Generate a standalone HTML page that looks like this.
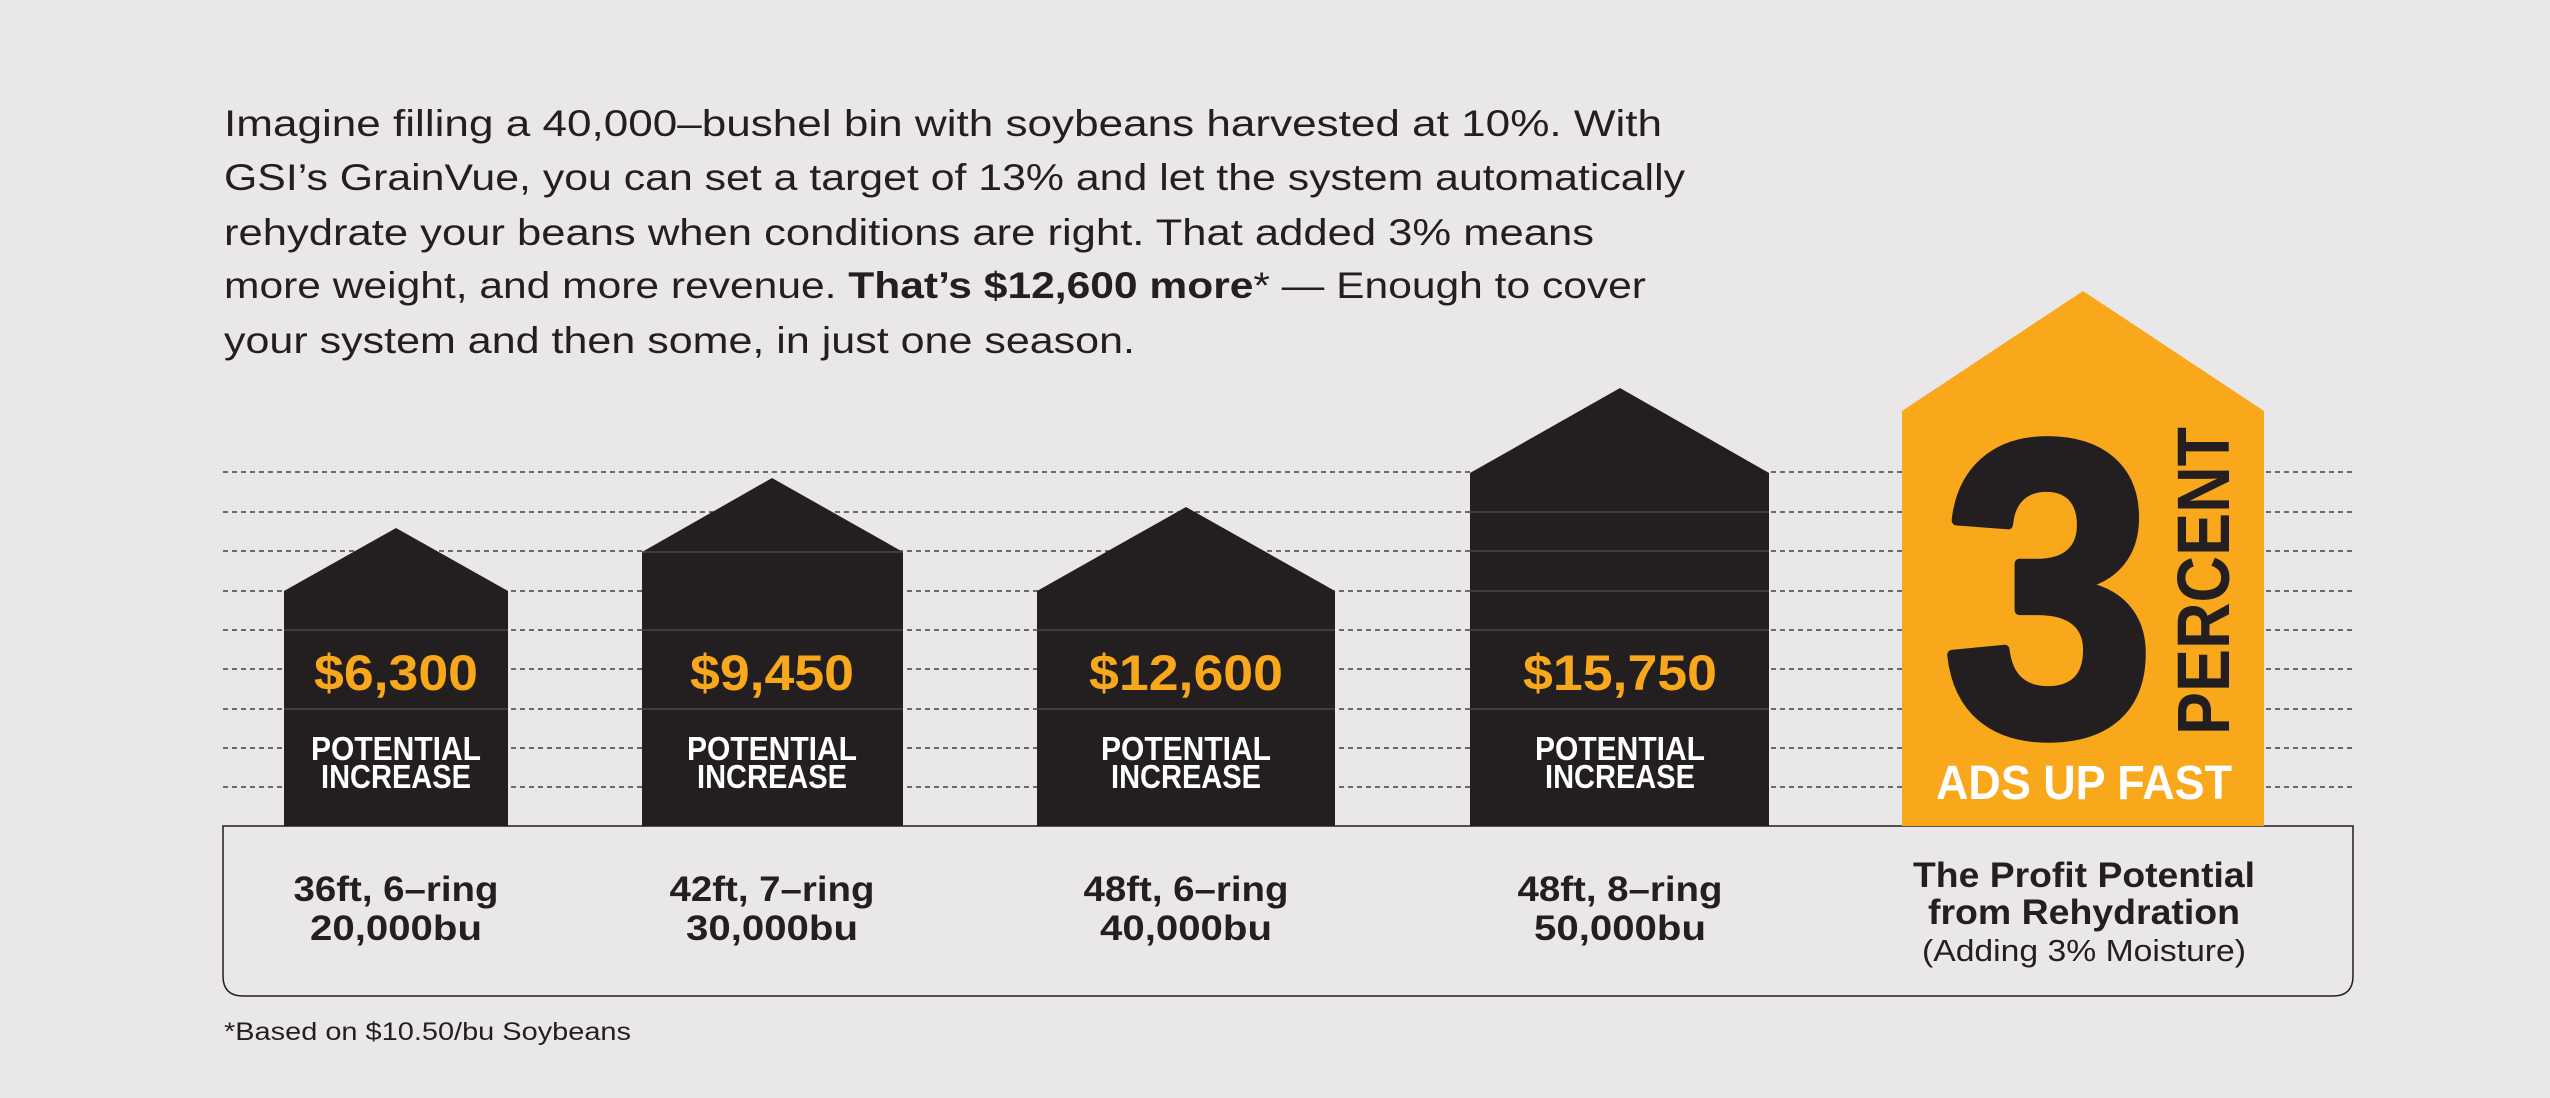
<!DOCTYPE html>
<html><head><style>
html,body{margin:0;padding:0;background:#e9e7e8;}
svg{display:block;}
text{font-family:"Liberation Sans",sans-serif;}
</style></head><body>
<svg width="2550" height="1098" viewBox="0 0 2550 1098" xmlns="http://www.w3.org/2000/svg">
<rect width="2550" height="1098" fill="#e9e7e8"/>
<g fill="#231f20" font-size="37">
<text x="224" y="136" textLength="1438" lengthAdjust="spacingAndGlyphs">Imagine filling a 40,000–bushel bin with soybeans harvested at 10%. With</text>
<text x="224" y="190" textLength="1461" lengthAdjust="spacingAndGlyphs">GSI’s GrainVue, you can set a target of 13% and let the system automatically</text>
<text x="224" y="245" textLength="1370" lengthAdjust="spacingAndGlyphs">rehydrate your beans when conditions are right. That added 3% means</text>
<text x="224" y="298" textLength="1422" lengthAdjust="spacingAndGlyphs">more weight, and more revenue. <tspan font-weight="bold">That’s $12,600 more</tspan>* — Enough to cover</text>
<text x="224" y="353" textLength="911" lengthAdjust="spacingAndGlyphs">your system and then some, in just one season.</text>
</g>
<g stroke="#231f20" stroke-width="1.3" stroke-dasharray="5,4">
<line x1="223" x2="2353" y1="472" y2="472"/>
<line x1="223" x2="2353" y1="512" y2="512"/>
<line x1="223" x2="2353" y1="551" y2="551"/>
<line x1="223" x2="2353" y1="591" y2="591"/>
<line x1="223" x2="2353" y1="630" y2="630"/>
<line x1="223" x2="2353" y1="669" y2="669"/>
<line x1="223" x2="2353" y1="709" y2="709"/>
<line x1="223" x2="2353" y1="748" y2="748"/>
<line x1="223" x2="2353" y1="787" y2="787"/>
</g>
<path d="M223 826 H2353 V976 Q2353 996 2333 996 H243 Q223 996 223 976 Z" fill="#e9e7e8" stroke="#231f20" stroke-width="1.5"/>
<g fill="#231f20">
<polygon points="284,826 284,591 396,528 508,591 508,826"/>
<polygon points="642,826 642,552 772,478 903,552 903,826"/>
<polygon points="1037,826 1037,591 1186,507 1335,591 1335,826"/>
<polygon points="1470,826 1470,473 1620,388 1769,473 1769,826"/>
</g>
<g stroke="#4a4748" stroke-width="1.5">
<line x1="284" x2="508" y1="630" y2="630"/><line x1="284" x2="508" y1="709" y2="709"/>
<line x1="642" x2="903" y1="552" y2="552"/><line x1="642" x2="903" y1="630" y2="630"/><line x1="642" x2="903" y1="709" y2="709"/>
<line x1="1037" x2="1335" y1="630" y2="630"/><line x1="1037" x2="1335" y1="709" y2="709"/>
<line x1="1470" x2="1769" y1="512" y2="512"/><line x1="1470" x2="1769" y1="551" y2="551"/><line x1="1470" x2="1769" y1="591" y2="591"/><line x1="1470" x2="1769" y1="630" y2="630"/><line x1="1470" x2="1769" y1="709" y2="709"/>
</g>
<polygon points="1902,826 1902,411 2083,291 2264,411 2264,826" fill="#f9a81b"/>
<g font-weight="bold" text-anchor="middle">
<g fill="#f9a81b" font-size="50">
<text x="396" y="690" textLength="164" lengthAdjust="spacingAndGlyphs">$6,300</text>
<text x="772" y="690" textLength="164" lengthAdjust="spacingAndGlyphs">$9,450</text>
<text x="1186" y="690" textLength="194" lengthAdjust="spacingAndGlyphs">$12,600</text>
<text x="1620" y="690" textLength="194" lengthAdjust="spacingAndGlyphs">$15,750</text>
</g>
<g fill="#ffffff" font-size="33">
<text x="396" y="760" textLength="170" lengthAdjust="spacingAndGlyphs">POTENTIAL</text>
<text x="396" y="788" textLength="150" lengthAdjust="spacingAndGlyphs">INCREASE</text>
<text x="772" y="760" textLength="170" lengthAdjust="spacingAndGlyphs">POTENTIAL</text>
<text x="772" y="788" textLength="150" lengthAdjust="spacingAndGlyphs">INCREASE</text>
<text x="1186" y="760" textLength="170" lengthAdjust="spacingAndGlyphs">POTENTIAL</text>
<text x="1186" y="788" textLength="150" lengthAdjust="spacingAndGlyphs">INCREASE</text>
<text x="1620" y="760" textLength="170" lengthAdjust="spacingAndGlyphs">POTENTIAL</text>
<text x="1620" y="788" textLength="150" lengthAdjust="spacingAndGlyphs">INCREASE</text>
</g>
<text x="2049" y="733" fill="#231f20" stroke="#231f20" stroke-width="10" stroke-linejoin="round" font-size="418" textLength="212" lengthAdjust="spacingAndGlyphs">3</text>
<text transform="translate(2229,581) rotate(-90)" x="0" y="0" fill="#231f20" font-size="74" textLength="308" lengthAdjust="spacingAndGlyphs">PERCENT</text>
<text x="2084" y="799" fill="#ffffff" font-size="48" textLength="296" lengthAdjust="spacingAndGlyphs">ADS UP FAST</text>
<g fill="#231f20" font-size="35">
<text x="396" y="901" textLength="205" lengthAdjust="spacingAndGlyphs">36ft, 6–ring</text>
<text x="396" y="940" textLength="172" lengthAdjust="spacingAndGlyphs">20,000bu</text>
<text x="772" y="901" textLength="205" lengthAdjust="spacingAndGlyphs">42ft, 7–ring</text>
<text x="772" y="940" textLength="172" lengthAdjust="spacingAndGlyphs">30,000bu</text>
<text x="1186" y="901" textLength="205" lengthAdjust="spacingAndGlyphs">48ft, 6–ring</text>
<text x="1186" y="940" textLength="172" lengthAdjust="spacingAndGlyphs">40,000bu</text>
<text x="1620" y="901" textLength="205" lengthAdjust="spacingAndGlyphs">48ft, 8–ring</text>
<text x="1620" y="940" textLength="172" lengthAdjust="spacingAndGlyphs">50,000bu</text>
<text x="2084" y="887" textLength="342" lengthAdjust="spacingAndGlyphs">The Profit Potential</text>
<text x="2084" y="924" textLength="312" lengthAdjust="spacingAndGlyphs">from Rehydration</text>
</g>
<text x="2084" y="961" fill="#231f20" font-size="31" font-weight="normal" textLength="324" lengthAdjust="spacingAndGlyphs">(Adding 3% Moisture)</text>
</g>
<text x="224" y="1040" fill="#231f20" font-size="25" textLength="407" lengthAdjust="spacingAndGlyphs">*Based on $10.50/bu Soybeans</text>
</svg>
</body></html>
